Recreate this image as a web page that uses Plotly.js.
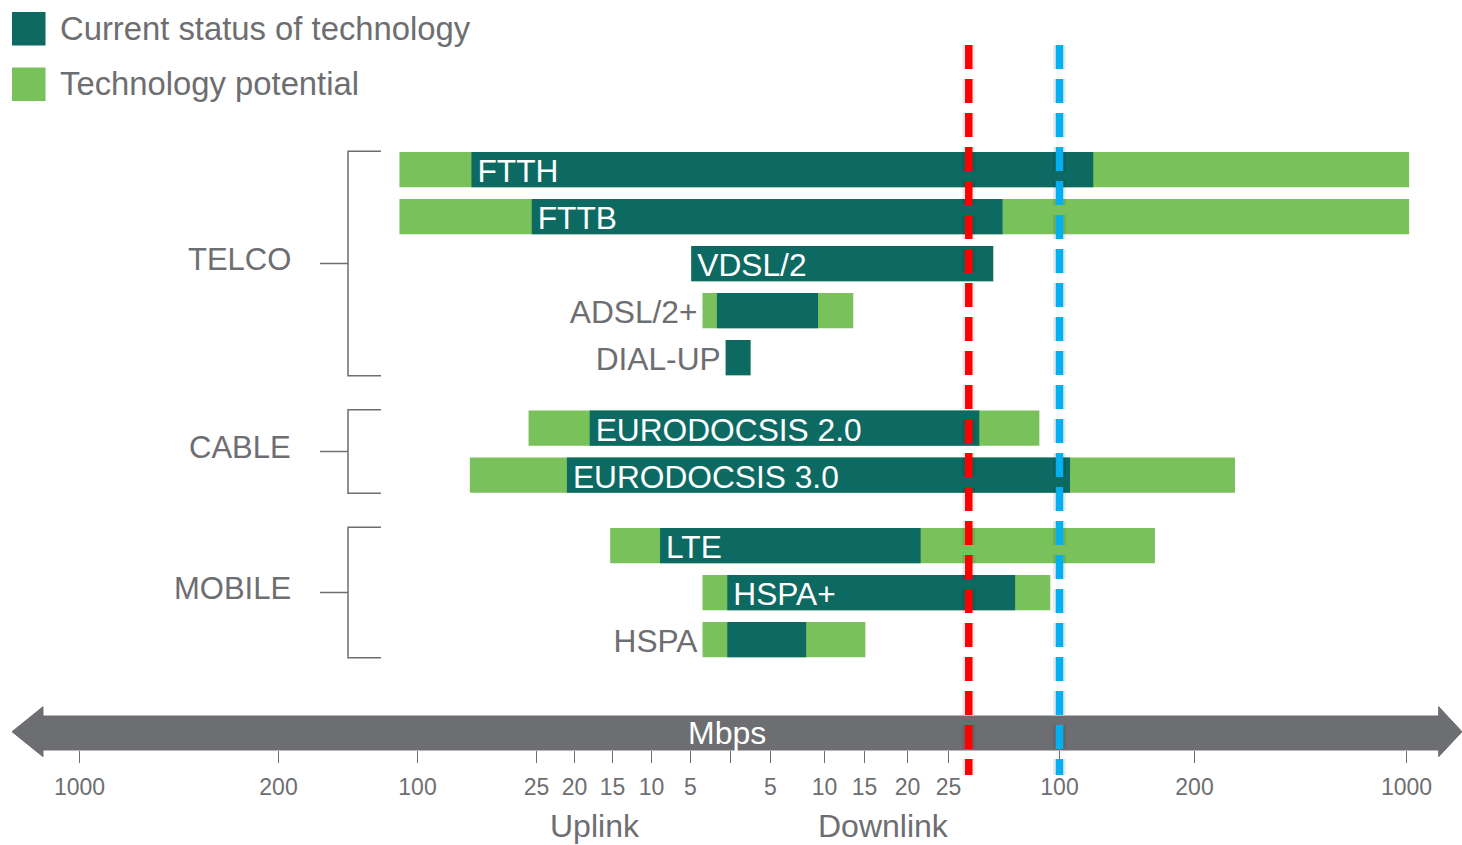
<!DOCTYPE html>
<html>
<head>
<meta charset="utf-8">
<script src="https://cdn.plot.ly/plotly-3.0.1.min.js"></script>
<style>html,body{margin:0;padding:0;background:#fff;}#chart{width:1462px;height:845px;}</style>
</head>
<body>
<div id="chart"></div>
<script>
// ---------- data ----------
const technologies = ['FTTH', 'FTTB', 'VDSL/2', 'ADSL/2+', 'DIAL-UP', 'EURODOCSIS 2.0', 'EURODOCSIS 3.0', 'LTE', 'HSPA+', 'HSPA'];
const groups = ['TELCO', 'TELCO', 'TELCO', 'TELCO', 'TELCO', 'CABLE', 'CABLE', 'MOBILE', 'MOBILE', 'MOBILE'];
// Mbps, uplink side (left) and downlink side (right)
const currentUp = [66, 28, 4.9, 1.7, 0.6, 18, 21, 8.9, 0.4, 0.4];
const currentDown = [125, 61.5, 55.2, 9.4, 2.5, 45.8, 107.8, 21.6, 70, 8.3];
const potentialUp = [113, 113, 4.9, 3.5, 0.6, 30, 67, 15.3, 3.5, 3.5];
const potentialDown = [1010, 1010, 55.2, 13.6, 2.5, 86.4, 352.8, 170.7, 93.8, 15.1];
// downlink target lines (Mbps)
const targetDown = [38.7, 100];
// axis tick values (Mbps)
const tickMbps = [0, 5, 10, 15, 20, 25, 100, 200, 1000];
const seriesNames = ['Current status of technology', 'Technology potential'];

// ---------- scale (piecewise, as on the reference's broken axis) ----------
const upAnchorPos = [0, 40, 79, 118, 156, 194, 313, 452, 651];
const downAnchorPos = [0, 40, 94, 134, 177, 218, 329, 464, 676];
function interp(v, pos) {
  for (let i = 0; i < tickMbps.length - 1; i++) {
    if (v <= tickMbps[i + 1] || i === tickMbps.length - 2) {
      const t = (v - tickMbps[i]) / (tickMbps[i + 1] - tickMbps[i]);
      return pos[i] + t * (pos[i + 1] - pos[i]);
    }
  }
}
const upPos = v => -interp(v, upAnchorPos);
const downPos = v => interp(v, downAnchorPos);

// rows: extra half-row gap between groups
const rows = [];
{ let r = 0; groups.forEach((g, i) => { if (i > 0 && g !== groups[i - 1]) r += 0.5; rows.push(r); r += 1; }); }

// ---------- style ----------
const DARK = '#0c6a62', GREEN = '#79c15a', GREY = '#6d6e71';
const FONT = '"Liberation Sans", Arial, Helvetica, sans-serif';
const W = 1462, H = 845, CX = 730.5;
const yFromPx = py => (py - 169.5) / 47;
const xFromPx = px => px - CX;
const LABEL_DY = 0.1;

const traces = [];
traces.push({
  type: 'bar', orientation: 'h', y: rows,
  base: potentialUp.map(upPos),
  x: potentialUp.map((u, i) => downPos(potentialDown[i]) - upPos(u)),
  width: 0.75, marker: { color: GREEN, line: { width: 0 } },
  name: seriesNames[1], showlegend: false, hoverinfo: 'skip'
});
traces.push({
  type: 'bar', orientation: 'h', y: rows,
  base: currentUp.map(upPos),
  x: currentUp.map((u, i) => downPos(currentDown[i]) - upPos(u)),
  width: 0.75, marker: { color: DARK, line: { width: 0 } },
  name: seriesNames[0], showlegend: false, hoverinfo: 'skip'
});

// labels: inside the dark bar if it is wide enough, else left of the bar
const inside = technologies.map((t, i) => (downPos(currentDown[i]) - upPos(currentUp[i])) > t.length * 22);
const inIdx = technologies.map((t, i) => i).filter(i => inside[i]);
const outIdx = technologies.map((t, i) => i).filter(i => !inside[i]);
traces.push({
  type: 'scatter', mode: 'text', cliponaxis: false,
  x: inIdx.map(i => upPos(currentUp[i]) + 6), y: inIdx.map(i => rows[i] + LABEL_DY),
  text: inIdx.map(i => technologies[i]), textposition: 'middle right',
  textfont: { family: FONT, size: 31.7, color: '#ffffff' }, showlegend: false, hoverinfo: 'skip'
});
traces.push({
  type: 'scatter', mode: 'text', cliponaxis: false,
  x: outIdx.map(i => upPos(potentialUp[i]) - 5), y: outIdx.map(i => rows[i] + LABEL_DY),
  text: outIdx.map(i => technologies[i]), textposition: 'middle left',
  textfont: { family: FONT, size: 31.7, color: GREY }, showlegend: false, hoverinfo: 'skip'
});

// ---------- shapes ----------
const shapes = [];
// big double arrow (axis band)
const px = x => x / W, py = y => 1 - y / H;
const arrow = [[12, 731.7], [43, 706.7], [43, 716], [1438.7, 716], [1438.7, 706.7], [1462, 731.7],
  [1438.7, 756.7], [1438.7, 750], [43, 750], [43, 756.7]];
shapes.push({
  type: 'path', xref: 'paper', yref: 'paper', layer: 'above',
  path: 'M' + arrow.map(p => px(p[0]).toFixed(5) + ',' + py(p[1]).toFixed(5)).join(' L') + ' Z',
  fillcolor: GREY, line: { width: 1, color: GREY }
});
// group brackets
const uniqueGroups = [...new Set(groups)];
const groupMid = {};
uniqueGroups.forEach(g => {
  const rs = rows.filter((r, i) => groups[i] === g);
  const top = rs[0] - 0.39, bot = rs[rs.length - 1] + 0.39, mid = (rs[0] + rs[rs.length - 1]) / 2;
  groupMid[g] = mid;
  const bx = xFromPx(348), ex = xFromPx(381), mx = xFromPx(320);
  const ln = { color: GREY, width: 1.5 };
  shapes.push({ type: 'path', xref: 'x', yref: 'y', line: ln,
    path: `M${ex},${top} L${bx},${top} L${bx},${bot} L${ex},${bot}` });
  shapes.push({ type: 'line', xref: 'x', yref: 'y', x0: mx, x1: bx, y0: mid, y1: mid, line: ln });
});
// dashed target lines (with faint halo)
const lineColors = ['#ff0000', '#00b0f0'];
targetDown.forEach((v, k) => {
  const x = downPos(v);
  shapes.push({ type: 'line', xref: 'x', yref: 'y', x0: x, x1: x, y0: yFromPx(45), y1: yFromPx(775),
    line: { color: 'rgba(0,0,0,0.08)', width: 13, dash: '24px,10px' } });
  shapes.push({ type: 'line', xref: 'x', yref: 'y', x0: x, x1: x, y0: yFromPx(45), y1: yFromPx(775),
    line: { color: lineColors[k], width: 7.5, dash: '24px,10px' } });
});
// legend squares
const legendColors = [DARK, GREEN];
const legendY = [12, 67.5];
legendColors.forEach((c, k) => {
  shapes.push({ type: 'rect', xref: 'paper', yref: 'paper', x0: px(12), x1: px(45.5),
    y0: py(legendY[k]), y1: py(legendY[k] + 33.5), fillcolor: c, line: { width: 0 } });
});

// ---------- annotations ----------
const annotations = [];
seriesNames.forEach((n, k) => {
  annotations.push({ xref: 'paper', yref: 'paper', x: px(58), y: py(legendY[k] + 16), xanchor: 'left', yanchor: 'middle',
    text: n, showarrow: false, font: { family: FONT, size: 32.8, color: GREY } });
});
uniqueGroups.forEach(g => {
  annotations.push({ xref: 'x', yref: 'y', x: xFromPx(293), y: groupMid[g], yshift: 4, xanchor: 'right', yanchor: 'middle',
    text: g, showarrow: false, font: { family: FONT, size: 31, color: GREY } });
});
annotations.push({ xref: 'x', yref: 'paper', x: xFromPx(726.5), y: py(733), xanchor: 'center', yanchor: 'middle',
  text: 'Mbps', showarrow: false, font: { family: FONT, size: 32, color: '#ffffff' } });
annotations.push({ xref: 'x', yref: 'paper', x: xFromPx(595), y: py(826), xanchor: 'center', yanchor: 'middle',
  text: 'Uplink', showarrow: false, font: { family: FONT, size: 32, color: GREY } });
annotations.push({ xref: 'x', yref: 'paper', x: xFromPx(883), y: py(826), xanchor: 'center', yanchor: 'middle',
  text: 'Downlink', showarrow: false, font: { family: FONT, size: 32, color: GREY } });

// ---------- axis ticks ----------
const upTicks = tickMbps.slice(1).reverse();
const tickvals = upTicks.map(upPos).concat([0]).concat(tickMbps.slice(1).map(downPos));
const ticktext = upTicks.map(String).concat(['']).concat(tickMbps.slice(1).map(String));

const layout = {
  width: W, height: H,
  margin: { l: 0, r: 0, t: 0, b: 0, pad: 0 },
  paper_bgcolor: '#ffffff', plot_bgcolor: '#ffffff',
  barmode: 'overlay', showlegend: false,
  font: { family: FONT, color: GREY },
  xaxis: {
    range: [xFromPx(0), xFromPx(W)], tickmode: 'array', tickvals: tickvals, ticktext: ticktext,
    ticks: 'outside', ticklen: 12, tickwidth: 1.5, tickcolor: GREY,
    tickfont: { family: FONT, size: 23, color: GREY }, ticklabelstandoff: 4,
    showgrid: false, zeroline: false, showline: false,
    anchor: 'free', position: 1 - 750 / H, fixedrange: true
  },
  yaxis: {
    range: [yFromPx(H), yFromPx(0)], visible: false, showgrid: false, zeroline: false, fixedrange: true
  },
  shapes: shapes, annotations: annotations
};
Plotly.newPlot('chart', traces, layout, { displayModeBar: false, staticPlot: true });
</script>
</body>
</html>
